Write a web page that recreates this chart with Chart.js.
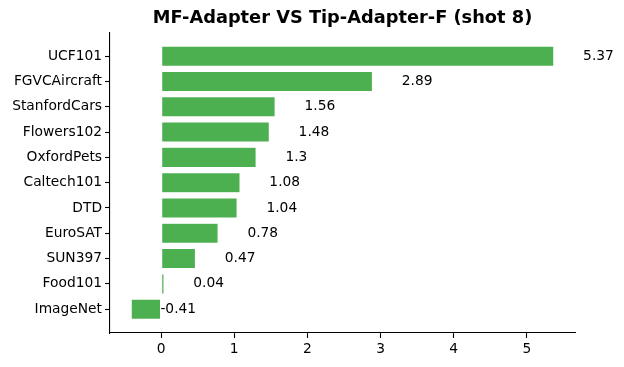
<!DOCTYPE html>
<html>
<head>
<meta charset="utf-8">
<script src="https://cdn.jsdelivr.net/npm/chart.js@4"></script>
<style>
  html, body { margin: 0; padding: 0; background: #fff; }
  #wrap { width: 624px; height: 367px; }
</style>
</head>
<body>
<div id="wrap"><canvas id="chart" width="624" height="367"></canvas></div>
<script>
// datasets, top to bottom
const datasets = ['UCF101', 'FGVCAircraft', 'StanfordCars', 'Flowers102', 'OxfordPets',
  'Caltech101', 'DTD', 'EuroSAT', 'SUN397', 'Food101', 'ImageNet'];
const gains = [5.37, 2.89, 1.56, 1.48, 1.3, 1.08, 1.04, 0.78, 0.47, 0.04, -0.41];
const xTicks = [0, 1, 2, 3, 4, 5];

const FONT = 'DejaVu Sans';

// value labels to the right of each bar
const valueLabels = {
  id: 'valueLabels',
  afterDatasetsDraw(chart) {
    const { ctx, scales: { x, y } } = chart;
    ctx.save();
    ctx.font = '13.8px "' + FONT + '"';
    ctx.fillStyle = '#000';
    ctx.textAlign = 'left';
    ctx.textBaseline = 'middle';
    gains.forEach((v, i) => {
      ctx.fillText(String(v), x.getPixelForValue(v + 0.4), y.getPixelForValue(i));
    });
    ctx.restore();
  }
};

new Chart(document.getElementById('chart'), {
  type: 'bar',
  data: {
    datasets: [{
      data: gains.map((v, i) => ({ x: v, y: i })),
      backgroundColor: '#4caf50',
      borderColor: 'rgba(255,255,255,0.5)',
      borderWidth: 0.6,
      borderSkipped: false,
      barPercentage: 0.8,
      categoryPercentage: 1
    }]
  },
  options: {
    indexAxis: 'y',
    responsive: false,
    animation: false,
    layout: { padding: { left: 0, right: 49, top: 0, bottom: 0 } },
    plugins: {
      legend: { display: false },
      tooltip: { enabled: false },
      title: {
        display: true,
        fullSize: false,
        text: 'MF-Adapter VS Tip-Adapter-F (shot 8)',
        color: '#000',
        font: { family: FONT, size: 17.8, weight: 'bold' },
        padding: { top: 8, bottom: 3 }
      }
    },
    scales: {
      x: {
        type: 'linear',
        offset: false,
        min: -0.699,
        max: 5.659,
        afterBuildTicks: s => { s.ticks = xTicks.map(v => ({ value: v })); },
        afterFit: s => { s.height = 34; },
        grid: { offset: false, drawOnChartArea: false, tickLength: 5, tickColor: '#000', tickWidth: 1.1 },
        border: { display: true, color: '#000', width: 1.1 },
        ticks: { color: '#000', padding: 3, font: { family: FONT, size: 13.8 } }
      },
      y: {
        type: 'linear',
        offset: false,
        reverse: true,
        min: -0.94,
        max: 10.94,
        afterBuildTicks: s => { s.ticks = datasets.map((_, i) => ({ value: i })); },
        afterFit: s => { s.width = 110; },
        grid: { offset: false, drawOnChartArea: false, tickLength: 5, tickColor: '#000', tickWidth: 1.1 },
        border: { display: true, color: '#000', width: 1.1 },
        ticks: {
          color: '#000',
          padding: 3,
          autoSkip: false,
          font: { family: FONT, size: 13.8 },
          callback: v => datasets[v]
        }
      }
    }
  },
  plugins: [valueLabels]
});
</script>
</body>
</html>
